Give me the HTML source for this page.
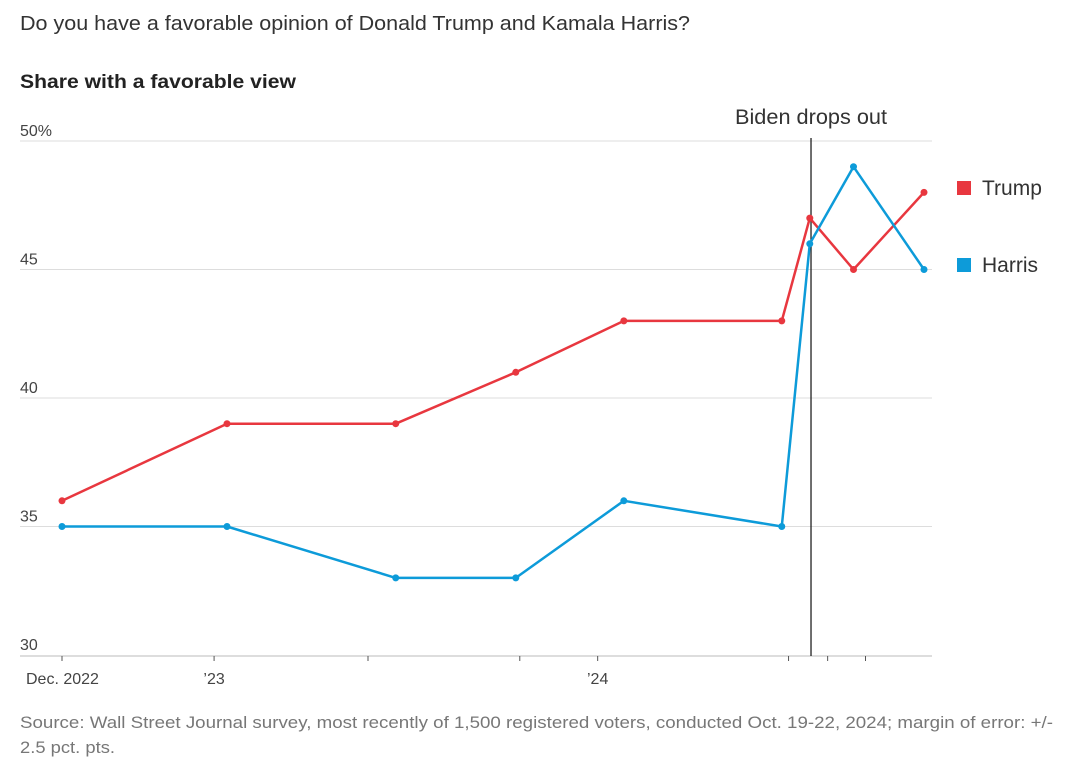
<!DOCTYPE html>
<html><head><meta charset="utf-8"><style>
body{margin:0;background:#fff;width:1069px;height:767px;overflow:hidden;font-family:"Liberation Sans",sans-serif;}
svg text{font-family:"Liberation Sans",sans-serif;}
</style></head><body>
<svg id="chart" width="1069" height="767" xmlns="http://www.w3.org/2000/svg">
<text x="20" y="30" font-size="20" fill="#333" textLength="670" lengthAdjust="spacingAndGlyphs">Do you have a favorable opinion of Donald Trump and Kamala Harris?</text>
<text x="20" y="88" font-size="19" font-weight="bold" fill="#222" textLength="276" lengthAdjust="spacingAndGlyphs">Share with a favorable view</text>
<g id="grid"></g><g id="marks"></g>
<text x="20" y="728" font-size="17" fill="#777" textLength="1033" lengthAdjust="spacingAndGlyphs">Source: Wall Street Journal survey, most recently of 1,500 registered voters, conducted Oct. 19-22, 2024; margin of error: +/-</text>
<text x="20" y="753" font-size="17" fill="#777" textLength="95" lengthAdjust="spacingAndGlyphs">2.5 pct. pts.</text>
</svg>
<script>
const times=[0,5.36,10.84,14.74,18.25,23.38,24.29,25.71,28];
const trump=[36,39,39,41,43,43,47,45,48];
const harris=[35,35,33,33,36,35,46,49,45];
const yTicks=[30,35,40,45,50];
const yTickLabels=["30","35","40","45","50%"];
const xTicks=[0,4.94,9.94,14.87,17.4,23.6,24.87,26.1];
const xTickLabels=["Dec. 2022","’23","","","’24","","",""];
const eventTime=24.33;
const NS="http://www.w3.org/2000/svg";
const x=t=>62+(t-0)*(924-62)/28;
const y=v=>655-(v-30)*(655-141)/20;
function mk(tag,attrs,parent){const e=document.createElementNS(NS,tag);for(const k in attrs)e.setAttribute(k,attrs[k]);parent.appendChild(e);return e;}
const grid=document.getElementById('grid'),marks=document.getElementById('marks');
yTicks.forEach((v,i)=>{
 if(i>0){const l=mk('line',{x1:20,x2:932,y1:y(v),y2:y(v),stroke:'#ddd','stroke-width':1},grid);
 
 }
 const t=mk('text',{x:20,y:y(v)-5,'font-size':16,fill:'#444'},grid);t.textContent=yTickLabels[i];
 
 
});
const ax=mk('line',{x1:20,x2:932,y1:656,y2:656,stroke:'#bbb'},grid);


xTicks.forEach((t,i)=>{
 const l=mk('line',{x1:x(t),x2:x(t),y1:656,y2:661,stroke:'#555'},grid);
 
 
 if(xTickLabels[i]){const tx=mk('text',{x:x(t),y:684,'font-size':16,fill:'#444','text-anchor':i==0?'start':'middle'},grid);
 if(i==0)tx.setAttribute('x',x(t)-36);
 tx.textContent=xTickLabels[i];
 
 }
});
const ev=mk('line',{x1:x(eventTime),x2:x(eventTime),y1:138,y2:656,stroke:'#222','stroke-width':1.3},marks);


const et=mk('text',{x:x(eventTime),y:124,'font-size':21,fill:'#333','text-anchor':'middle',textLength:152,lengthAdjust:'spacingAndGlyphs'},marks);et.textContent='Biden drops out';


function series(vals,color,name){
 const p=mk('polyline',{points:vals.map((v,i)=>x(times[i])+','+y(v)).join(' '),fill:'none',stroke:color,'stroke-width':2.5,'stroke-linejoin':'round'},marks);
 
 
 vals.forEach((v,i)=>{const c=mk('circle',{cx:x(times[i]),cy:y(v),r:3.5,fill:color},marks);
 
 });
}
series(trump,'#e8373f','trump');
series(harris,'#0d9bd9','harris');
[['Trump','#e8373f',188],['Harris','#0d9bd9',265]].forEach(([n,c,yy])=>{
 const g=mk('g',{},marks);
 
 
 mk('rect',{x:957,y:yy-7,width:14,height:14,fill:c},g);
 const t=mk('text',{x:982,y:yy+7,'font-size':21,fill:'#333'},g);t.textContent=n;
});
</script>
</body></html>
